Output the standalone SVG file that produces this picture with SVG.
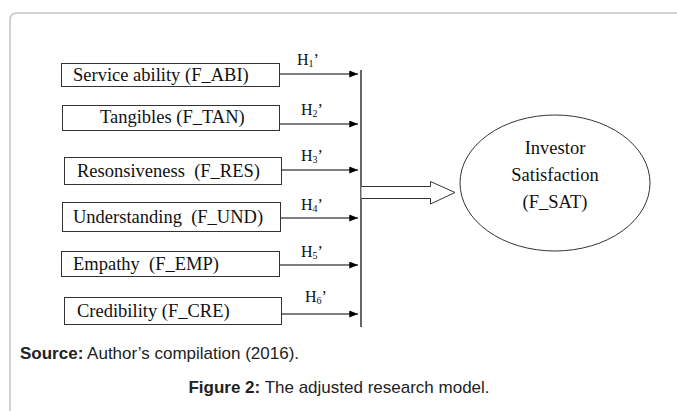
<svg xmlns="http://www.w3.org/2000/svg" width="677" height="411" viewBox="0 0 677 411">
<defs>
<marker id="ah" viewBox="0 0 10 8" refX="10" refY="4" markerWidth="10" markerHeight="7" markerUnits="userSpaceOnUse" orient="auto">
<path d="M0,0 L10,4 L0,8 z" fill="#000"/>
</marker>
</defs>
<style>
.box{fill:#fff;stroke:#333;stroke-width:1}
.t{font-family:"Liberation Serif","Times New Roman",serif;font-size:18.5px;fill:#111;white-space:pre}
.h{font-family:"Liberation Serif","Times New Roman",serif;font-size:16px;fill:#111}
.sub{font-size:10px}
.ln{stroke:#000;stroke-width:1.2;fill:none}
.cap{font-family:"Liberation Sans",Arial,sans-serif;font-size:17px;fill:#222}
</style>
<rect width="677" height="411" fill="#fff"/>
<path d="M10,411 L10,20 Q10,13 17,13 L677,13" fill="none" stroke="#c4c4c4" stroke-width="1.5"/>

<g id="n1"><rect class="box" x="61.5" y="63.5" width="218" height="23"/><text class="t" x="73" y="81" xml:space="preserve">Service ability (F_ABI)</text></g>
<g id="n2"><rect class="box" x="62.5" y="105.5" width="217" height="25"/><text class="t" x="100" y="123" xml:space="preserve">Tangibles (F_TAN)</text></g>
<g id="n3"><rect class="box" x="64.5" y="157.5" width="217" height="27"/><text class="t" x="77" y="177" xml:space="preserve">Resonsiveness  (F_RES)</text></g>
<g id="n4"><rect class="box" x="62.5" y="202.5" width="218" height="29"/><text class="t" x="73" y="223" xml:space="preserve">Understanding  (F_UND)</text></g>
<g id="n5"><rect class="box" x="61.5" y="251.5" width="218" height="25"/><text class="t" x="73" y="270" xml:space="preserve">Empathy  (F_EMP)</text></g>
<g id="n6"><rect class="box" x="64.5" y="297.5" width="217" height="27"/><text class="t" x="77" y="317" xml:space="preserve">Credibility (F_CRE)</text></g>

<g id="target"><ellipse cx="555" cy="183" rx="95" ry="68" fill="#fff" stroke="#333" stroke-width="1"/>
<text class="t" x="555" y="154" text-anchor="middle">Investor</text>
<text class="t" x="555" y="181" text-anchor="middle">Satisfaction</text>
<text class="t" x="555" y="208" text-anchor="middle">(F_SAT)</text></g>

<g id="connectors">
<line class="ln" x1="280" y1="74" x2="358" y2="74" marker-end="url(#ah)"/>
<line class="ln" x1="280" y1="124" x2="358" y2="124" marker-end="url(#ah)"/>
<line class="ln" x1="282" y1="170" x2="358" y2="170" marker-end="url(#ah)"/>
<line class="ln" x1="281" y1="218" x2="358" y2="218" marker-end="url(#ah)"/>
<line class="ln" x1="280" y1="265" x2="358" y2="265" marker-end="url(#ah)"/>
<line class="ln" x1="282" y1="314" x2="358" y2="314" marker-end="url(#ah)"/>
<line class="ln" x1="361" y1="70" x2="361" y2="327"/>
<path d="M361.5,186.5 L430.5,186.5 L430.5,181.5 L455,192.5 L430.5,204 L430.5,198.5 L361.5,198.5" fill="#fff" stroke="#333" stroke-width="1"/>
</g>

<g id="labels">
<text class="h" x="297" y="65">H<tspan class="sub" dy="2">1</tspan><tspan dy="-2">’</tspan></text>
<text class="h" x="301" y="115">H<tspan class="sub" dy="2">2</tspan><tspan dy="-2">’</tspan></text>
<text class="h" x="301" y="161">H<tspan class="sub" dy="2">3</tspan><tspan dy="-2">’</tspan></text>
<text class="h" x="301" y="210">H<tspan class="sub" dy="2">4</tspan><tspan dy="-2">’</tspan></text>
<text class="h" x="301" y="257">H<tspan class="sub" dy="2">5</tspan><tspan dy="-2">’</tspan></text>
<text class="h" x="305" y="302">H<tspan class="sub" dy="2">6</tspan><tspan dy="-2">’</tspan></text>
</g>

<text class="cap" x="20" y="359"><tspan font-weight="bold">Source:</tspan> Author’s compilation (2016).</text>
<text class="cap" x="339" y="393" text-anchor="middle"><tspan font-weight="bold">Figure 2:</tspan> The adjusted research model.</text>
</svg>
